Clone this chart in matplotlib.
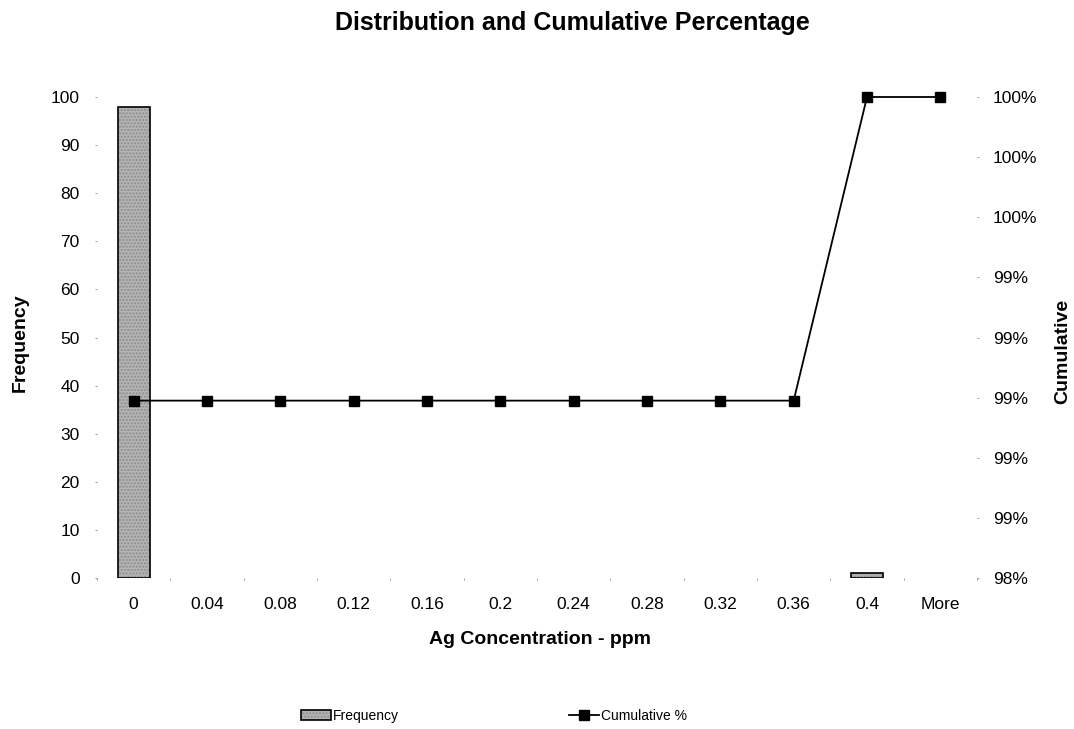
import matplotlib
matplotlib.use("Agg")
import matplotlib.pyplot as plt
import numpy as np

plt.rcParams['font.family'] = ['Liberation Sans', 'DejaVu Sans']

bins = ['0', '0.04', '0.08', '0.12', '0.16', '0.2', '0.24', '0.28', '0.32', '0.36', '0.4', 'More']
frequency = [98, 0, 0, 0, 0, 0, 0, 0, 0, 0, 1, 0]
cumulative = [0.9899, 0.9899, 0.9899, 0.9899, 0.9899, 0.9899, 0.9899, 0.9899, 0.9899, 0.9899, 1.0, 1.0]
left_ticks = [0, 10, 20, 30, 40, 50, 60, 70, 80, 90, 100]
right_ticks = [0.984, 0.986, 0.988, 0.990, 0.992, 0.994, 0.996, 0.998, 1.0]
right_labels = ['98%', '99%', '99%', '99%', '99%', '99%', '100%', '100%', '100%']

fig = plt.figure(figsize=(10.74, 7.29), dpi=100)
ax = fig.add_axes([97/1074, 1-578/729, 880/1074, 481/729])
x = np.arange(len(bins))
bars = ax.bar(x, frequency, width=0.44, facecolor='#b4b4b4', edgecolor='black',
              linewidth=1.2, hatch='.....', label='Frequency', zorder=2)
for b, v in zip(bars, frequency):
    b._hatch_color = (0.55, 0.55, 0.55, 1.0)
    if v == 0:
        b.set_visible(False)
ax.set_xlim(-0.5, len(bins)-0.5)
ax.set_ylim(0, 100)
ax.set_yticks(left_ticks)
ax.set_xticks(x)
ax.set_xticklabels(bins)
ax.set_xticks(np.arange(len(bins)+1)-0.5, minor=True)
for s in ax.spines.values():
    s.set_visible(False)
ax.tick_params(axis='y', length=1.5, width=0.6, color='#888888', labelsize=12.5, pad=11)
ax.tick_params(axis='x', which='major', length=0, labelsize=12.5, pad=14)
ax.tick_params(axis='x', which='minor', length=1.5, width=0.6, color='#888888')
ax.set_xlabel('Ag Concentration - ppm', fontsize=14, fontweight='bold')
ax.xaxis.set_label_coords(0.503, -0.11)
ax.set_ylabel('Frequency', fontsize=14, fontweight='bold')
ax.yaxis.set_label_coords(-0.078, 0.49)

ax2 = ax.twinx()
ax2.plot(x, cumulative, color='black', linewidth=1.3, marker='s', markersize=6.5,
         label='Cumulative %', zorder=3, clip_on=False)
ax2.set_ylim(0.984, 1.0)
ax2.set_yticks(right_ticks)
ax2.set_yticklabels(right_labels)
for s in ax2.spines.values():
    s.set_visible(False)
ax2.tick_params(axis='y', length=1.5, width=0.6, color='#888888', labelsize=12.5, pad=10)
ax2.set_ylabel('Cumulative', fontsize=14, fontweight='bold')
ax2.yaxis.set_label_coords(1.088, 0.47)

fig.text(572/1074, 1-23/729, 'Distribution and Cumulative Percentage', ha='center', va='center',
         fontsize=18, fontweight='bold')

h1, l1 = ax.get_legend_handles_labels()
h2, l2 = ax2.get_legend_handles_labels()
fig.legend(h1 + h2, l1 + l2, loc='center', bbox_to_anchor=(494/1074, 1-716/729), ncol=2,
           frameon=False, fontsize=10, columnspacing=12.2, handlelength=2.15, handletextpad=0.2,
           handleheight=0.7)

fig.savefig('out.png', dpi=100)
